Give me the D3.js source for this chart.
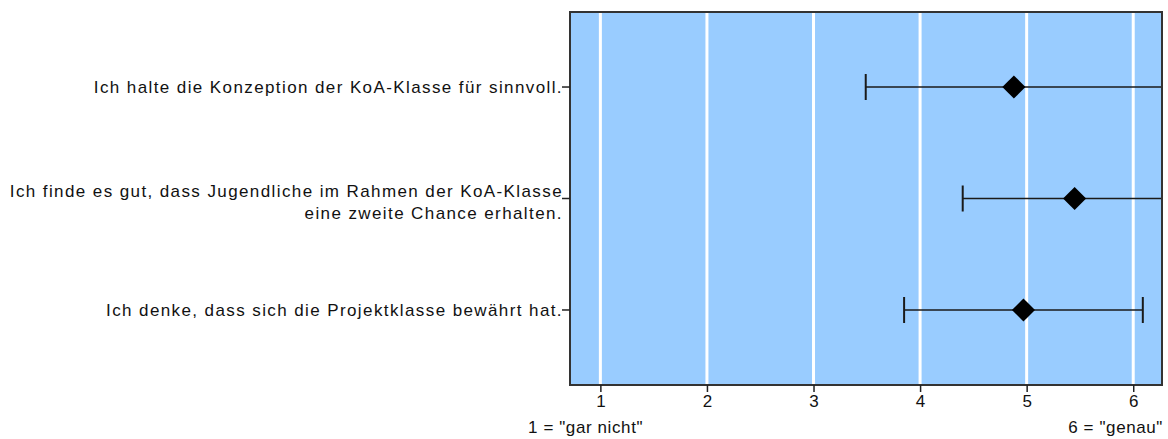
<!DOCTYPE html>
<html><head><meta charset="utf-8">
<script src="https://cdn.jsdelivr.net/npm/d3@7"></script>
<style>
html,body{margin:0;padding:0;background:#fff;}
svg{display:block;}
text{font-family:"Liberation Sans",Arial,sans-serif;fill:#111;}
</style></head>
<body>
<svg id="chart" width="1168" height="439"></svg>
<script>
// ---- data ----
const categories = [
  ["Ich halte die Konzeption der KoA-Klasse für sinnvoll."],
  ["Ich finde es gut, dass Jugendliche im Rahmen der KoA-Klasse", "eine zweite Chance erhalten."],
  ["Ich denke, dass sich die Projektklasse bewährt hat."]
];
const means = [4.88, 5.45, 4.97];
const lowers = [3.49, 4.40, 3.85];
const uppers = [6.27, 6.50, 6.09];
const xTicks = [1, 2, 3, 4, 5, 6];
const leftNote = '1 = "gar nicht"';
const rightNote = '6 = "genau"';

// ---- layout ----
const W = 1168, H = 439;
const L = 570, R = 1162, T = 12, B = 385;
const fontSize = 17;

const svg = d3.select("#chart");
const x = d3.scaleLinear().domain([0.715, 6.27]).range([L, R]);
const ids = categories.map((d, i) => i);
const y = d3.scalePoint().domain(ids).range([T, B]).padding(0.673);

svg.append("defs").append("clipPath").attr("id", "clip")
  .append("rect").attr("x", L).attr("y", T).attr("width", R - L).attr("height", B - T);

// background
svg.append("rect").attr("x", L).attr("y", T).attr("width", R - L).attr("height", B - T)
  .attr("fill", "#99CCFF");

// gridlines
svg.append("g").selectAll("line").data(xTicks).join("line")
  .attr("x1", d => x(d)).attr("x2", d => x(d))
  .attr("y1", T).attr("y2", B)
  .attr("stroke", "#fff").attr("stroke-width", 3);

// error bars
const g = svg.append("g").attr("clip-path", "url(#clip)");
ids.forEach(i => {
  const cy = y(i);
  g.append("line").attr("x1", x(lowers[i])).attr("x2", x(uppers[i]))
    .attr("y1", cy).attr("y2", cy).attr("stroke", "#1a1a1a").attr("stroke-width", 1.5);
  [lowers[i], uppers[i]].forEach(v => {
    g.append("line").attr("x1", x(v)).attr("x2", x(v))
      .attr("y1", cy - 13).attr("y2", cy + 13)
      .attr("stroke", "#1a1a1a").attr("stroke-width", 2);
  });
  g.append("path")
    .attr("d", d3.symbol(d3.symbolDiamond2, 340)())
    .attr("transform", `translate(${x(means[i])},${cy})`)
    .attr("fill", "#000");
});

// border
svg.append("rect").attr("x", L).attr("y", T).attr("width", R - L).attr("height", B - T)
  .attr("fill", "none").attr("stroke", "#333").attr("stroke-width", 2);

// x axis
const xAxis = svg.append("g").attr("transform", `translate(0,${B})`)
  .call(d3.axisBottom(x).tickValues(xTicks).tickSize(7).tickPadding(3).tickFormat(d3.format("d")));
xAxis.select(".domain").remove();
xAxis.selectAll(".tick line").attr("stroke", "#222").attr("stroke-width", 1.5);
xAxis.selectAll("text").attr("font-size", fontSize).attr("fill", "#111")
  .style("font-family", '"Liberation Sans",Arial,sans-serif');

// y axis ticks
svg.append("g").selectAll("line").data(ids).join("line")
  .attr("x1", L - 8).attr("x2", L).attr("y1", d => y(d)).attr("y2", d => y(d))
  .attr("stroke", "#222").attr("stroke-width", 1.5);

// y labels
const yl = svg.append("g");
ids.forEach(i => {
  const lines = categories[i];
  const n = lines.length;
  const t = yl.append("text").attr("text-anchor", "end").attr("font-size", fontSize)
    .attr("letter-spacing", 1.4);
  lines.forEach((s, k) => {
    t.append("tspan").attr("x", L - 7)
      .attr("y", y(i) + (n === 1 ? 6 : (k === 0 ? -2 : 20)))
      .text(s);
  });
});

// end notes
svg.append("text").attr("x", 528).attr("y", 433).attr("font-size", fontSize)
  .attr("letter-spacing", 0.6).text(leftNote);
svg.append("text").attr("x", R + 1).attr("y", 433).attr("text-anchor", "end").attr("font-size", fontSize)
  .attr("letter-spacing", 0.6).text(rightNote);
</script>
</body></html>
